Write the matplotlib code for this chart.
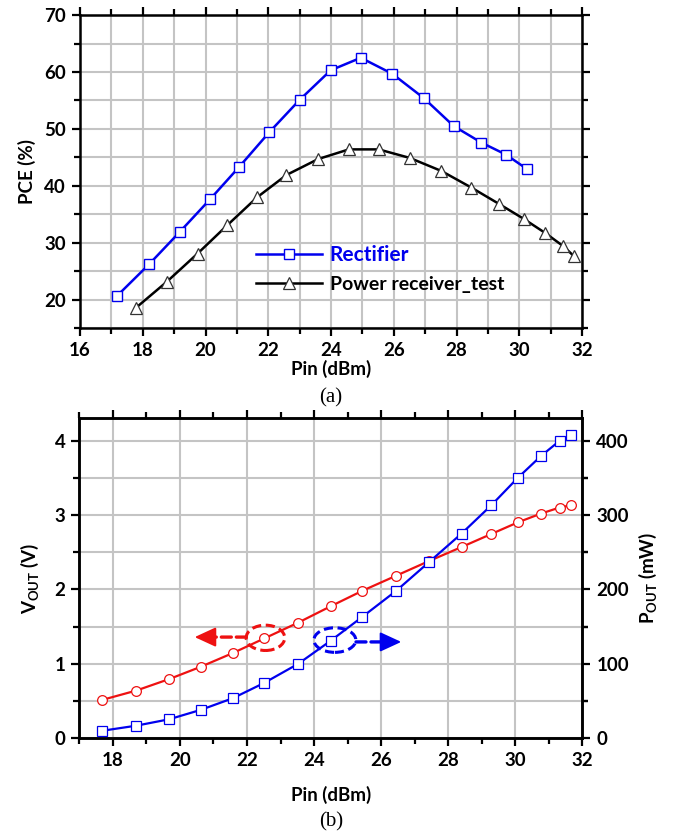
import numpy as np
import matplotlib
matplotlib.use("Agg")
import matplotlib.pyplot as plt
from matplotlib.patches import Ellipse
from matplotlib.ticker import MultipleLocator

plt.rcParams['font.family'] = ['Lato', 'DejaVu Sans']
plt.rcParams['mathtext.default'] = 'regular'

# (a) PCE vs Pin
rect_pin = [17.19, 18.2, 19.18, 20.14, 21.07, 22.03, 23.0, 23.99, 24.95, 25.95,
            26.96, 27.91, 28.79, 29.57, 30.26]
rect_pce = [20.7, 26.2, 31.9, 37.6, 43.3, 49.4, 55.1, 60.3, 62.5, 59.7,
            55.4, 50.5, 47.6, 45.5, 42.9]
recv_pin = [17.77, 18.76, 19.75, 20.70, 21.65, 22.58, 23.59, 24.57, 25.52, 26.51,
            27.52, 28.47, 29.36, 30.14, 30.83, 31.40, 31.73]
recv_pce = [18.5, 23.1, 28.1, 33.1, 38.0, 41.9, 44.7, 46.4, 46.4, 44.9,
            42.6, 39.7, 36.8, 34.2, 31.7, 29.4, 27.7]

# (b) Vout / Pout vs Pin
pin_b = [17.69, 18.70, 19.68, 20.62, 21.58, 22.52, 23.53, 24.50, 25.44, 26.45,
         27.42, 28.40, 29.29, 30.07, 30.77, 31.32, 31.65]
vout = [0.517, 0.642, 0.796, 0.961, 1.146, 1.343, 1.555, 1.775, 1.982, 2.185,
        2.38, 2.57, 2.746, 2.90, 3.02, 3.10, 3.13]
pout = [10.2, 17.0, 25.6, 38.2, 53.9, 74.6, 100.2, 131.2, 163.2, 198.2,
        236.4, 275.1, 313.3, 349.7, 379.4, 399.6, 407.7]

BLUE = '#0000ee'
RED = '#ee1111'
GRID = '#c4c4c4'
fs = 13.5

fig = plt.figure(figsize=(6.74, 8.39), dpi=100)


def style_axes(ax):
    for s in ax.spines.values():
        s.set_linewidth(1.8)
    ax.tick_params(which='both', direction='out', width=1.6, labelsize=fs,
                   top=True, right=True, pad=4)
    ax.tick_params(which='major', length=6)
    ax.tick_params(which='minor', length=4)
    for lab in ax.get_xticklabels() + ax.get_yticklabels():
        lab.set_fontweight('bold')


def dashed_arrow(ax, start, base, tip, color):
    # dashed shaft, then a solid filled head
    ax.annotate('', xy=base, xytext=start,
                arrowprops=dict(arrowstyle='-', color=color, lw=2.4,
                                ls=(0, (3, 1.5)), shrinkA=0, shrinkB=0), zorder=4)
    ax.annotate('', xy=tip, xytext=base,
                arrowprops=dict(arrowstyle='-|>,head_length=1.3,head_width=0.6',
                                color=color, lw=1.5, shrinkA=0, shrinkB=0), zorder=4)


# ---- top chart
ax1 = fig.add_axes([0.1187, 0.609, 0.7448, 0.373])
ax1.plot(rect_pin, rect_pce, color=BLUE, lw=1.8, marker='s', ms=7, mfc='white',
         mec=BLUE, mew=1.0, label='Rectifier', zorder=3)
ax1.plot(recv_pin, recv_pce, color='black', lw=1.8, marker='^', ms=8, mfc='white',
         mec='#333333', mew=0.9, label='Power receiver_test', zorder=3)
ax1.set_xlim(16, 32)
ax1.set_ylim(15, 70)
ax1.xaxis.set_major_locator(MultipleLocator(2))
ax1.xaxis.set_minor_locator(MultipleLocator(1))
ax1.yaxis.set_major_locator(MultipleLocator(10))
ax1.yaxis.set_minor_locator(MultipleLocator(5))
ax1.set_yticks([20, 30, 40, 50, 60, 70])
ax1.grid(which='both', color=GRID, lw=1.5, zorder=0)
ax1.set_axisbelow(True)
style_axes(ax1)
ax1.tick_params(labeltop=False, labelright=False)
ax1.set_xlabel('Pin (dBm)', fontsize=fs, fontweight='bold', labelpad=1)
ax1.set_ylabel('PCE (%)', fontsize=fs, fontweight='bold', labelpad=6)
leg = ax1.legend(loc='upper left', bbox_to_anchor=(0.335, 0.29), frameon=False,
                 handlelength=3.4, handletextpad=0.4, labelspacing=0.55,
                 borderaxespad=0, fontsize=14)
leg.get_texts()[0].set_color(BLUE)
leg.get_texts()[0].set_fontsize(15)
for t in leg.get_texts():
    t.set_fontweight('bold')
fig.text(0.491, 0.526, '(a)', ha='center', va='center', fontsize=15,
         family='Liberation Serif')

# ---- bottom chart
ax2 = fig.add_axes([0.1177, 0.120, 0.7463, 0.3815])
ax3 = ax2.twinx()
ax2.plot(pin_b, vout, color=RED, lw=1.6, marker='o', ms=7, mfc='white',
         mec=RED, mew=0.9, zorder=3)
ax3.plot(pin_b, pout, color=BLUE, lw=1.6, marker='s', ms=6.5, mfc='white',
         mec=BLUE, mew=0.9, zorder=3)
ax2.set_xlim(17, 32)
ax2.set_ylim(0, 4.3)
ax3.set_ylim(0, 430)
ax2.xaxis.set_major_locator(MultipleLocator(2))
ax2.xaxis.set_minor_locator(MultipleLocator(1))
ax2.yaxis.set_major_locator(MultipleLocator(1))
ax2.yaxis.set_minor_locator(MultipleLocator(0.5))
ax3.yaxis.set_major_locator(MultipleLocator(100))
ax3.yaxis.set_minor_locator(MultipleLocator(50))
ax2.grid(which='major', axis='x', color=GRID, lw=1.5, zorder=0)
ax2.grid(which='both', axis='y', color=GRID, lw=1.5, zorder=0)
ax2.set_axisbelow(True)
style_axes(ax2)
ax2.tick_params(right=False, labelright=False)
for s in ax3.spines.values():
    s.set_linewidth(1.8)
ax3.tick_params(which='both', direction='out', width=1.6, labelsize=fs, pad=4)
ax3.tick_params(which='major', length=6)
ax3.tick_params(which='minor', length=4)
for lab in ax3.get_yticklabels():
    lab.set_fontweight('bold')
ax2.set_xlabel('Pin (dBm)', fontsize=fs, fontweight='bold', labelpad=12)
ax2.set_ylabel('V$_{OUT}$ (V)', fontsize=fs, fontweight='bold', labelpad=10)
ax3.set_ylabel('P$_{OUT}$ (mW)', fontsize=fs, fontweight='bold', labelpad=6,
               rotation=90)

# annotation ellipses and arrows
ax2.add_patch(Ellipse((22.55, 1.35), 1.15, 0.34, fill=False, ec=RED, lw=2.2,
                      ls=(0, (3, 1.5)), zorder=4))
dashed_arrow(ax2, (21.98, 1.36), (20.9, 1.36), (20.44, 1.36), RED)
ax2.add_patch(Ellipse((24.62, 1.32), 1.25, 0.33, fill=False, ec=BLUE, lw=2.2,
                      ls=(0, (3, 1.5)), zorder=4))
dashed_arrow(ax2, (25.25, 1.295), (26.12, 1.295), (26.6, 1.295), BLUE)

fig.text(0.491, 0.020, '(b)', ha='center', va='center', fontsize=15,
         family='Liberation Serif')

fig.savefig('out.png', dpi=100)
